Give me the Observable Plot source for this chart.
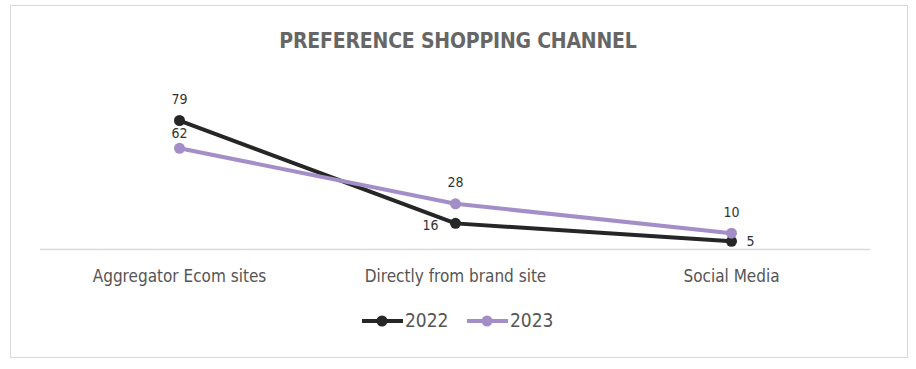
<!DOCTYPE html>
<html>
<head>
<meta charset="utf-8">
<script src="https://cdn.jsdelivr.net/npm/d3@7"></script>
<script src="https://cdn.jsdelivr.net/npm/@observablehq/plot@0.6"></script>
<style>
  body { margin: 0; background: #fff; width: 916px; height: 369px; position: relative; overflow: hidden; font-family: "Liberation Sans Narrow", "DejaVu Sans Condensed", sans-serif; }
  #frame { position: absolute; left: 10px; top: 5px; width: 896px; height: 351px; border: 1.5px solid #d9d9d9; }
  #title { position: absolute; left: 0; top: 29px; width: 916px; text-align: center; font-size: 21px; font-weight: bold; color: #666; letter-spacing: -0.2px; }
  #chart { position: absolute; left: 0; top: 60px; }
  #legend { position: absolute; left: 0; top: 308px; width: 916px; }
</style>
</head>
<body>
<div id="frame"></div>
<div id="title">PREFERENCE SHOPPING CHANNEL</div>
<div id="chart"></div>
<svg id="legend" width="916" height="26"></svg>
<script>
const categories = ["Aggregator Ecom sites", "Directly from brand site", "Social Media"];
const years = ["2022", "2023"];
const values2022 = [79, 16, 5];
const values2023 = [62, 28, 10];
const colors = ["#262626", "#a48ec8"];

const rows = [];
categories.forEach((c, i) => {
  rows.push({category: c, year: years[0], value: values2022[i], idx: i});
  rows.push({category: c, year: years[1], value: values2023[i], idx: i});
});
const r22 = rows.filter(d => d.year === years[0]);
const r23 = rows.filter(d => d.year === years[1]);

const font = '"Liberation Sans Narrow", "DejaVu Sans Condensed", sans-serif';
const lbl = {fontSize: 14, fill: "#333", text: d => String(d.value), x: "category", y: "value"};

const chart = Plot.plot({
  width: 916,
  height: 240,
  marginLeft: 40,
  marginRight: 46,
  marginTop: 20,
  marginBottom: 51,
  style: {fontFamily: font, background: "transparent", overflow: "visible"},
  x: {type: "point", domain: categories, padding: 0.5, label: null},
  y: {domain: [0, 103.5], axis: null},
  color: {domain: years, range: colors},
  marks: [
    Plot.ruleY([0], {stroke: "#d9d9d9", strokeWidth: 1.5}),
    Plot.axisX({tickSize: 0, tickPadding: 20, fontSize: 17, fill: "#555", label: null}),
    Plot.line(rows, {x: "category", y: "value", z: "year", stroke: "year", strokeWidth: 4}),
    Plot.dot(rows, {x: "category", y: "value", fill: "year", r: 5.5}),
    // labels 2023
    Plot.text(r23.filter(d => d.idx === 0), {...lbl, dy: -15}),
    Plot.text(r23.filter(d => d.idx > 0), {...lbl, dy: -21}),
    // labels 2022
    Plot.text(r22.filter(d => d.idx === 0), {...lbl, dy: -21}),
    Plot.text(r22.filter(d => d.idx === 1), {...lbl, dx: -25, dy: 2}),
    Plot.text(r22.filter(d => d.idx === 2), {...lbl, dx: 19, dy: 0})
  ]
});
document.getElementById("chart").appendChild(chart);

// legend
const lg = d3.select("#legend");
const starts = [362, 467];
years.forEach((y, i) => {
  const x0 = starts[i];
  const g = lg.append("g");
  g.append("line").attr("x1", x0).attr("x2", x0 + 41).attr("y1", 13).attr("y2", 13)
    .attr("stroke", colors[i]).attr("stroke-width", 4);
  g.append("circle").attr("cx", x0 + 20).attr("cy", 13).attr("r", 5.5).attr("fill", colors[i]);
  g.append("text").attr("x", x0 + 43).attr("y", 19).text(y)
    .attr("font-family", font).attr("font-size", 19).attr("fill", "#555");
});
</script>
</body>
</html>
